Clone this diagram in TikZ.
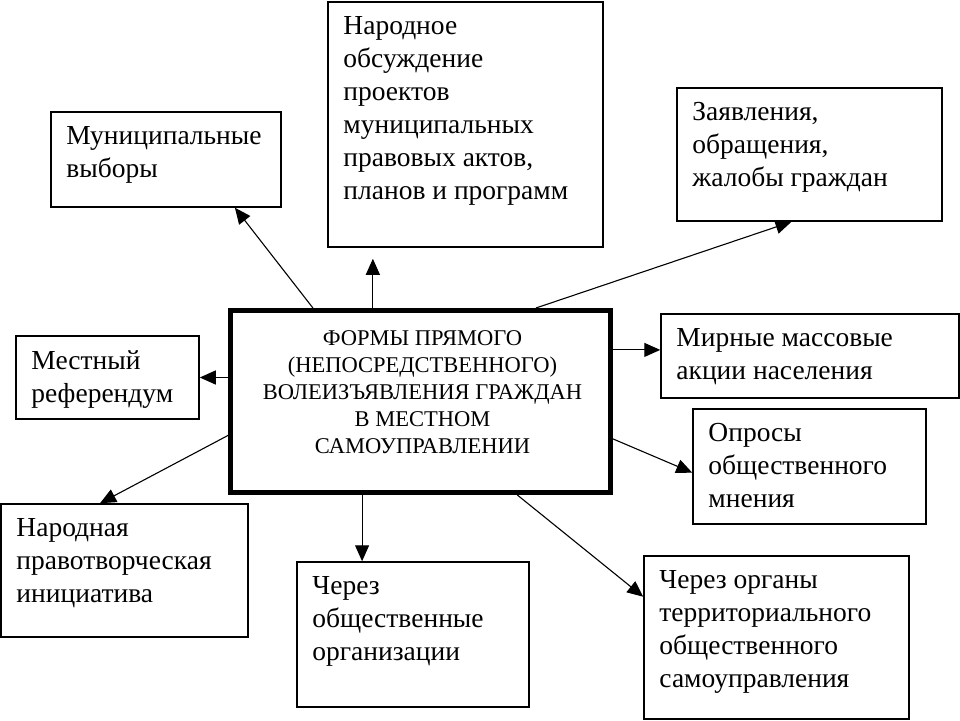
\documentclass[tikz,border=0pt]{standalone}
\usepackage{fontspec}
\setmainfont{Liberation Serif}
\usetikzlibrary{arrows.meta}

\begin{document}
\begin{tikzpicture}[x=1pt, y=-1pt,
  box/.style={draw, line width=1.5pt, inner sep=0pt},
  txt/.style={anchor=north west, align=left, inner xsep=16pt, inner ysep=15pt,
    font=\fontsize{27.5}{33}\selectfont},
  ctxt/.style={align=center, inner sep=0pt, yshift=9pt, xshift=2pt,
    font=\fontsize{22.5}{27}\selectfont},
  arr/.style={line width=1.1pt, -{Triangle[length=16pt, width=14pt]}}]
\useasboundingbox (0,0) rectangle (960,720);

% centre
\node[box, line width=5pt, minimum width=380pt, minimum height=182pt,
  label={[ctxt]center:ФОРМЫ ПРЯМОГО\\(НЕПОСРЕДСТВЕННОГО)\\ВОЛЕИЗЪЯВЛЕНИЯ ГРАЖДАН\\В МЕСТНОМ\\САМОУПРАВЛЕНИИ}]
  (forma) at (420.5,401.5) {};

% forms round it
\node[box, minimum width=230pt, minimum height=95pt,
  label={[txt]north west:Муниципальные\\выборы}] (vybory) at (166,159.5) {};
\node[box, minimum width=275pt, minimum height=245pt,
  label={[txt, inner ysep=15pt]north west:Народное\\обсуждение\\проектов\\муниципальных\\правовых актов,\\планов и программ}]
  (obsuzhd) at (465.5,124.5) {};
\node[box, minimum width=265pt, minimum height=133pt,
  label={[txt]north west:Заявления,\\обращения,\\жалобы граждан}] (zayavl) at (809.5,154.5) {};
\node[box, minimum width=298pt, minimum height=84pt,
  label={[txt]north west:Мирные массовые\\акции населения}] (mirnye) at (810,356) {};
\node[box, minimum width=183pt, minimum height=83pt,
  label={[txt]north west:Местный\\референдум}] (mestny) at (107.5,377.5) {};
\node[box, minimum width=247pt, minimum height=133pt,
  label={[txt]north west:Народная\\правотворческая\\инициатива}] (narodn) at (124.5,570.5) {};
\node[box, minimum width=232pt, minimum height=145pt,
  label={[txt]north west:Через\\общественные\\организации}] (obshch) at (413,634.5) {};
\node[box, minimum width=233pt, minimum height=115pt,
  label={[txt]north west:Опросы\\общественного\\мнения}] (oprosy) at (809.5,466.5) {};
\node[box, minimum width=265pt, minimum height=163pt,
  label={[txt]north west:Через органы\\территориального\\общественного\\самоуправления}] (organy) at (776.5,637.5) {};

% arrows
\draw[arr] (forma.139) -- (vybory.-35);
\draw[arr, shorten >=11pt] (forma.117) -- (forma.117 |- obsuzhd.south);
\draw[arr] (forma.39) -- (zayavl.-105);
\draw[arr] (forma.15) -- (forma.15 -| mirnye.west);
\draw[arr] (forma.west |- mestny.east) -- (mestny.east);
\draw[arr] (forma.190) -- (narodn.110);
\draw[arr] (forma.-122) -- (forma.-122 |- obshch.north);
\draw[arr] (forma.-11) -- (oprosy.-177);
\draw[arr] (forma.-44) -- (organy.163);
\end{tikzpicture}
\end{document}
